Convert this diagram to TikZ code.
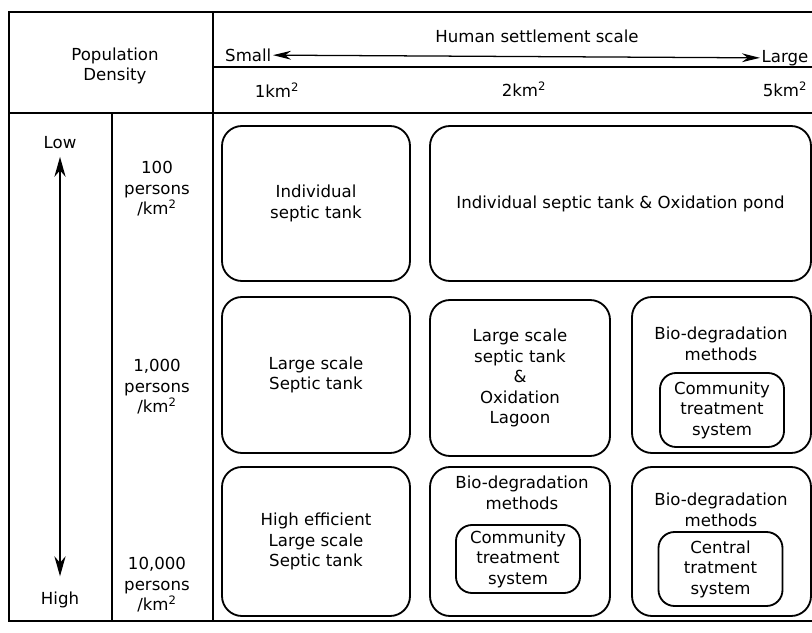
\documentclass[tikz,border=0pt]{standalone}
\usepackage{fontspec}
\setmainfont{DejaVu Sans}
\usetikzlibrary{arrows.meta}

\begin{document}
\begin{tikzpicture}[x=0.25mm,y=-0.25mm,
    every node/.style={font=\fontsize{11.8}{14.6}\selectfont, align=center, inner sep=1pt},
    frame/.style={line width=1.7pt},
    cell/.style={draw, line width=1.3pt, rounded corners=5mm},
    inbox/.style={draw, line width=1.3pt, rounded corners=4mm, minimum width=31mm, minimum height=18.5mm},
    hscale/.style={line width=0.9pt, {Stealth[length=4.5mm,width=2.2mm]}-{Stealth[length=4.5mm,width=2.2mm]}},
    vscale/.style={line width=1.1pt, {Stealth[length=5mm,width=2.8mm]}-{Stealth[length=5mm,width=2.8mm]}}]
    \useasboundingbox (0,0) rectangle (812,633);
    % table lines
    \draw[frame] (9,12) rectangle (840,621);
    \draw[frame] (213,12) -- (213,621);
    \draw[frame] (9,113) -- (840,113);
    \draw[frame] (112,113) -- (112,621);
    \draw[line width=1.1pt] (213,67) -- (840,67);
    % header
    \node (popd) at (115,66) {Population\\Density};
    \node (hss) at (537,36) {Human settlement scale};
    \node[anchor=east] (small) at (273,55) {Small};
    \node[anchor=east] (large) at (810,58) {Large};
    \draw[hscale] (small) -- (large);
    \node (km1) at (277,90) {1km\textsuperscript{2}};
    \node (km2) at (524,89) {2km\textsuperscript{2}};
    \node (km5) at (785,89) {5km\textsuperscript{2}};
    % density column
    \node (low) at (60,143) {Low};
    \node (high) at (60,600) {High};
    \draw[vscale, shorten <=1.5mm, shorten >=3.5mm] (low) -- (high);
    \node (d100) at (157,189) {100\\persons\\/km\textsuperscript{2}};
    \node (d1000) at (157,387) {1,000\\persons\\/km\textsuperscript{2}};
    \node (d10000) at (157,585) {10,000\\persons\\/km\textsuperscript{2}};
    % row 1
    \node[cell, minimum width=47mm, minimum height=38.75mm] (ist) at (316,203.5) {Individual\\septic tank};
    \node[cell, minimum width=95.25mm, minimum height=38.75mm] (istop) at (620.5,203.5) {Individual septic tank \& Oxidation pond};
    % row 2
    \node[cell, minimum width=47mm, minimum height=39mm] (lst) at (316,375) {Large scale\\Septic tank};
    \node[cell, minimum width=45mm, minimum height=39mm] (lsto) at (520,378) {Large scale\\septic tank\\\&\\Oxidation\\Lagoon};
    \node[cell, minimum width=44.75mm, minimum height=39mm] (bioa) at (721.5,375) {};
    \node (bioat) at (721,344) {Bio-degradation\\methods};
    \node[inbox] (ctsa) at (722,410) {Community\\treatment\\system};
    % row 3
    \node[cell, minimum width=47mm, minimum height=37.25mm] (hest) at (316,541.5) {High efficient\\Large scale\\Septic tank};
    \node[cell, minimum width=45mm, minimum height=37.25mm] (biob) at (520,541.5) {};
    \node (biobt) at (522,493) {Bio-degradation\\methods};
    \node[inbox, minimum height=17mm] (ctsb) at (518,559) {Community\\treatment\\system};
    \node[cell, minimum width=44.75mm, minimum height=37.25mm] (bioc) at (721.5,541.5) {};
    \node (bioct) at (721,510) {Bio-degradation\\methods};
    \node[inbox] (ctsc) at (720.5,569) {Central\\tratment\\system};
\end{tikzpicture}
\end{document}
